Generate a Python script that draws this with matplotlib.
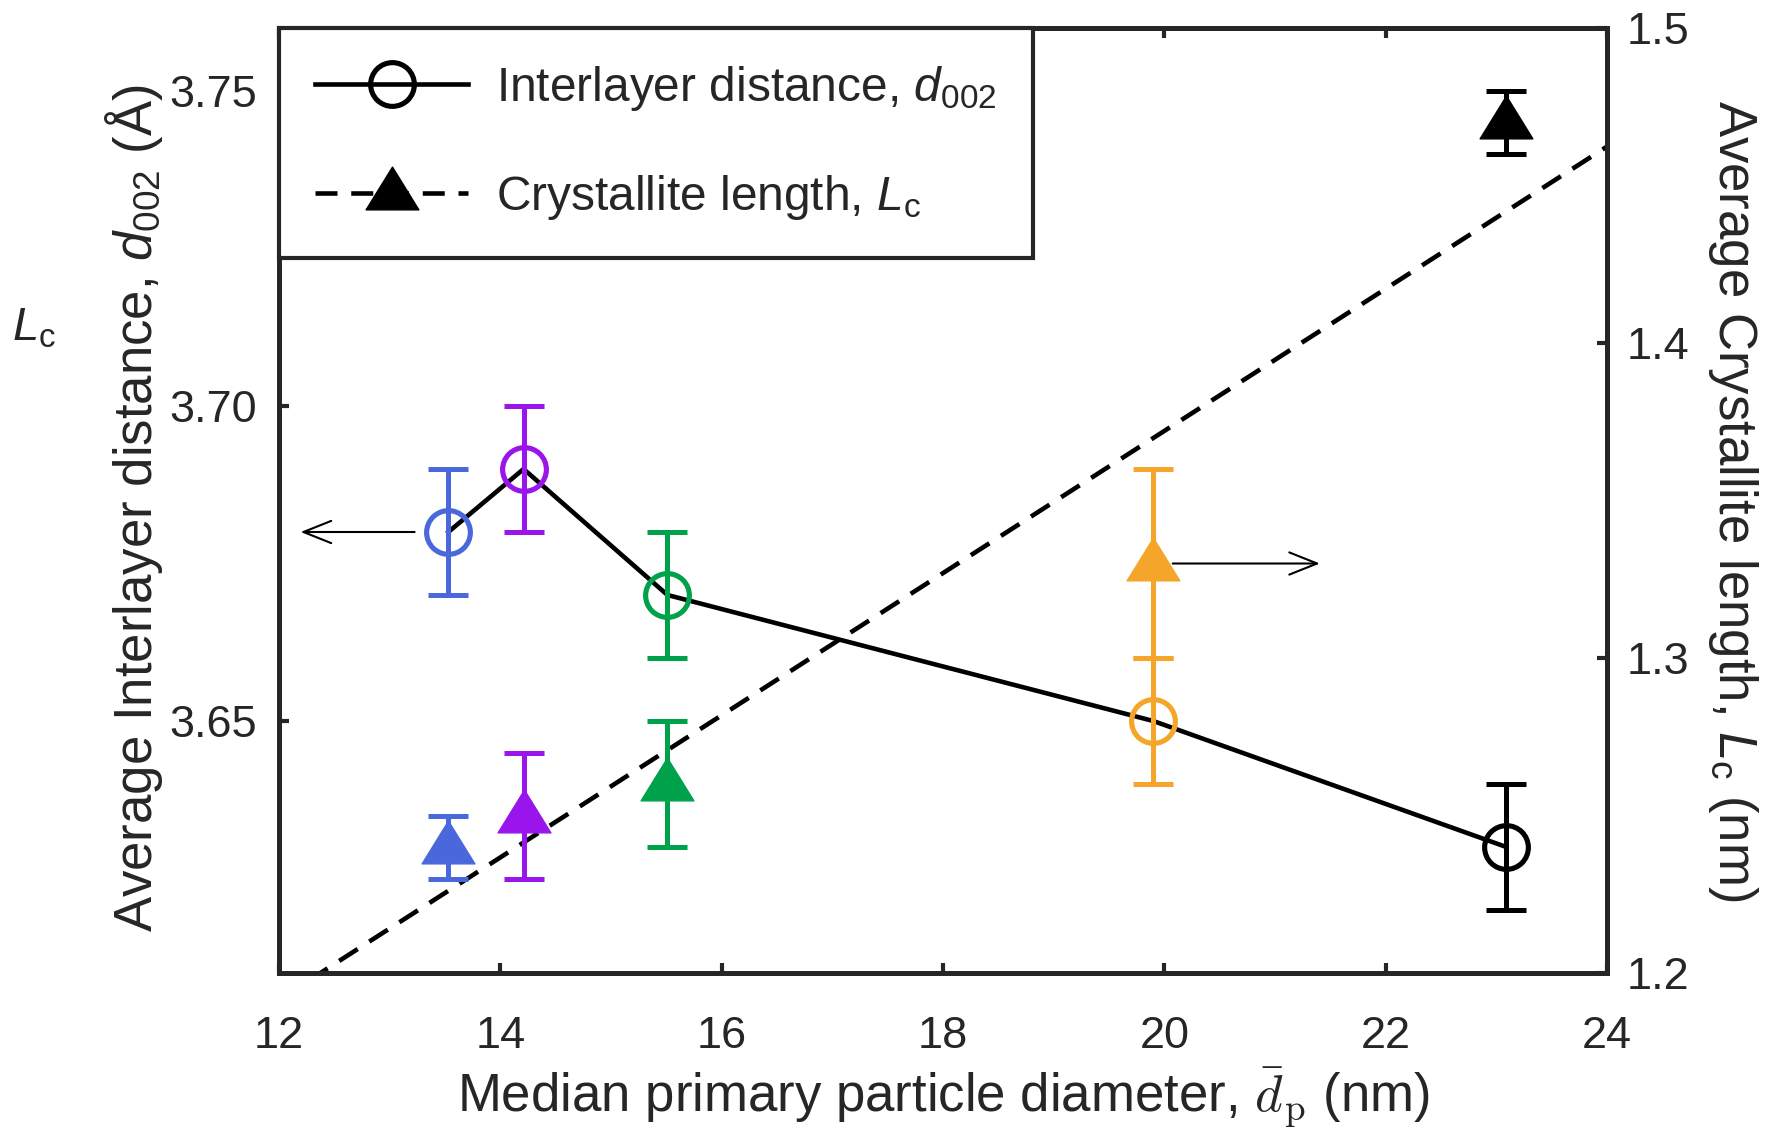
import matplotlib
matplotlib.use("Agg")
import numpy as np
import matplotlib.pyplot as plt
from matplotlib.lines import Line2D
from matplotlib.path import Path

# values
diameter = [13.53, 14.21, 15.51, 19.90, 23.09]          # nm
d002 = [3.68, 3.69, 3.67, 3.65, 3.63]                   # Angstrom
d002_err = [0.01, 0.01, 0.01, 0.01, 0.01]
lc = [1.24, 1.25, 1.26, 1.33, 1.47]                     # nm
lc_err = [0.01, 0.02, 0.02, 0.03, 0.01]
point_colors = ["#4A67DC", "#9A15EB", "#00A14B", "#F5A62A", "#000000"]

x_ticks = [12, 14, 16, 18, 20, 22, 24]
left_ticks = [3.65, 3.70, 3.75]
right_ticks = [1.2, 1.3, 1.4, 1.5]

txt = "#262626"
plt.rcParams["font.family"] = ["Liberation Sans", "DejaVu Sans"]
plt.rcParams["mathtext.fontset"] = "custom"
plt.rcParams["mathtext.rm"] = "Liberation Sans"
plt.rcParams["mathtext.it"] = "Liberation Sans:italic"
plt.rcParams["mathtext.bf"] = "Liberation Sans:bold"
tick_fs = 32.5
label_fs = 38
legend_fs = 34.5

# triangle a bit flatter than matplotlib's default one
tri = Path([(-1, -0.62), (1, -0.62), (0, 1.0), (-1, -0.62)],
           [Path.MOVETO, Path.LINETO, Path.LINETO, Path.CLOSEPOLY])

fig = plt.figure(figsize=(17.75, 11.33), dpi=100)
ax = fig.add_axes([0.1572, 0.1412, 0.7482, 0.8341])
ax2 = ax.twinx()

# left axis: interlayer distance
ax.plot(diameter, d002, color="black", lw=3.3, zorder=2)
for xi, yi, ei, c in zip(diameter, d002, d002_err, point_colors):
    ax.errorbar(xi, yi, yerr=ei, color=c, elinewidth=3.6, capsize=14.5,
                capthick=3.6, zorder=3)
    ax.plot(xi, yi, marker="o", ms=31.5, mew=3.7, mfc="none", mec=c, zorder=4)

# right axis: crystallite length with linear fit
slope, icpt = np.polyfit(diameter, lc, 1)
xfit = np.array([x_ticks[0], x_ticks[-1]])
ax2.plot(xfit, slope * xfit + icpt, color="black", lw=3.3, ls=(0, (4.8, 3.0)), zorder=2)
for xi, yi, ei, c in zip(diameter, lc, lc_err, point_colors):
    ax2.errorbar(xi, yi, yerr=ei, color=c, elinewidth=3.6, capsize=14.5,
                 capthick=3.6, zorder=3)
    ax2.plot(xi, yi, marker=tri, ms=38, mew=1, mfc=c, mec=c, zorder=4)

# arrows pointing to each axis
ax.annotate("", xy=(12.17, d002[0]), xytext=(13.25, d002[0]),
            arrowprops=dict(arrowstyle="->,head_length=1,head_width=0.4",
                            mutation_scale=20, lw=1.5, color="black"))
ax2.annotate("", xy=(21.43, lc[3]), xytext=(20.05, lc[3]),
             arrowprops=dict(arrowstyle="->,head_length=1,head_width=0.4",
                             mutation_scale=20, lw=1.5, color="black"))

ax.set_xlim(12, 24)
ax.set_ylim(3.61, 3.76)
ax2.set_ylim(1.2, 1.5)
ax.set_xticks(x_ticks)
ax.set_yticks(left_ticks)
ax.set_yticklabels(["%.2f" % v for v in left_ticks])
ax2.set_yticks(right_ticks)
ax2.set_yticklabels(["%.1f" % v for v in right_ticks])

ax.tick_params(axis="x", direction="in", top=True, length=7.5, width=3,
               labelsize=tick_fs, pad=31, colors=txt)
ax.tick_params(axis="y", direction="in", right=False, length=7.5, width=3,
               labelsize=tick_fs, pad=16, colors=txt)
ax2.tick_params(axis="y", direction="in", left=False, length=7.5, width=3,
                labelsize=tick_fs, pad=14, colors=txt)
for a in (ax, ax2):
    for s in a.spines.values():
        s.set_linewidth(3.5)
        s.set_color(txt)

ax.set_xlabel(r"Median primary particle diameter, $\bar{d}_\mathrm{p}$ (nm)",
              fontsize=label_fs, color=txt, labelpad=6, math_fontfamily="cm")
ax.set_ylabel("Average Interlayer distance, $d_{002}$ (Å)", fontsize=label_fs,
              color=txt, va="center")
ax.yaxis.set_label_coords(-0.1095, 0.492)
ax2.set_ylabel("Average Crystallite length, $L_\\mathrm{c}$ (nm)", fontsize=label_fs,
               color=txt, rotation=-90, va="center")
ax2.yaxis.set_label_coords(1.0949, 0.5)

fig.text(0.019, 0.7105, "$L_\\mathrm{c}$", fontsize=34, color=txt,
         ha="center", va="center")

handles = [
    Line2D([], [], color="black", lw=3.3, marker="o", ms=31.5, mew=3.7, mfc="none"),
    Line2D([], [], color="black", lw=3.3, ls=(0, (4.8, 3.0)), marker=tri, ms=38,
           mew=1, mfc="black"),
]
labels = ["Interlayer distance, $d_{002}$", "Crystallite length, $L_\\mathrm{c}$"]
leg = ax2.legend(handles, labels, loc="upper left", bbox_to_anchor=(0, 1),
                 borderaxespad=0, fontsize=legend_fs, fancybox=False, framealpha=1,
                 edgecolor=txt, handlelength=3.2, handletextpad=0.58,
                 labelspacing=1.25, borderpad=0.75, labelcolor=txt)
leg.get_frame().set_linewidth(3)
leg.set_zorder(10)

fig.savefig("out.png", dpi=100)
plt.close(fig)
